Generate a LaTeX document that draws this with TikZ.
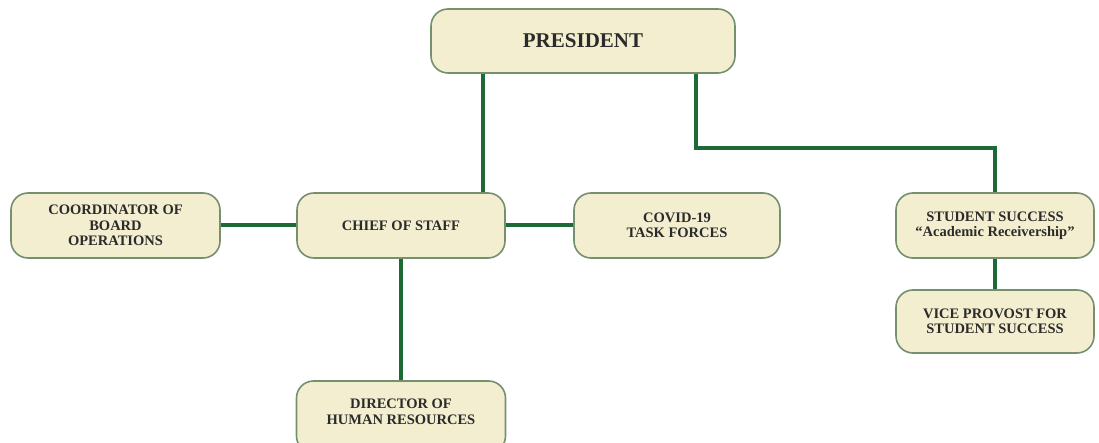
\documentclass[tikz,border=0pt]{standalone}
\usepackage{fontspec}
\setmainfont{Liberation Serif}
\definecolor{boxfill}{HTML}{F3EECF}
\definecolor{boxline}{HTML}{74906E}
\definecolor{linkgreen}{HTML}{1E6A36}
\definecolor{txt}{HTML}{2B2B2B}
\begin{document}
\begin{tikzpicture}[x=1pt,y=-1pt,
  boxfont/.style={font=\fontsize{14.5}{15.5}\selectfont\bfseries},
  orgbox/.style={draw=boxline, line width=1.6pt, fill=boxfill, rounded corners=17pt,
    inner sep=0pt, align=center, text=txt, boxfont},
  link/.style={draw=linkgreen, line width=4pt}]
\useasboundingbox (0,0) rectangle (1099,443);
\node[orgbox, minimum width=304pt, minimum height=64pt,
  font=\fontsize{21}{24}\selectfont\bfseries] (pres) at (583,41) {PRESIDENT};
\node[orgbox, minimum width=209pt, minimum height=65pt] (coord) at (115.5,225.5)
  {COORDINATOR OF\\BOARD\\OPERATIONS};
\node[orgbox, minimum width=208pt, minimum height=65pt] (chief) at (401,225.5)
  {CHIEF OF STAFF};
\node[orgbox, minimum width=206pt, minimum height=65pt] (covid) at (677,225.5)
  {COVID-19\\TASK FORCES};
\node[orgbox, minimum width=198pt, minimum height=65pt] (ss) at (995,225.5)
  {STUDENT SUCCESS\\``Academic Receivership''};
\node[orgbox, minimum width=198pt, minimum height=63pt] (vp) at (995,321.5)
  {VICE PROVOST FOR\\STUDENT SUCCESS};
\node[orgbox, minimum width=209pt, minimum height=72pt] (dir) at (401,417) {};
\node[text=txt, align=center, boxfont] (dirtxt) at (401,412)
  {DIRECTOR OF\\HUMAN RESOURCES};
\coordinate (bend1) at ([xshift=113pt]pres.south |- 0,148);
\coordinate (bend2) at (ss.north |- bend1);
\draw[link] ([xshift=82pt]chief.north) -- ([xshift=82pt]chief.north |- pres.south);
\draw[link] ([xshift=113pt]pres.south) -- (bend1) -- (bend2) -- (ss.north);
\draw[link] (coord.east) -- (chief.west);
\draw[link] (chief.east) -- (covid.west);
\draw[link] (chief.south) -- (dir.north);
\draw[link] (ss.south) -- (vp.north);
\end{tikzpicture}
\end{document}
